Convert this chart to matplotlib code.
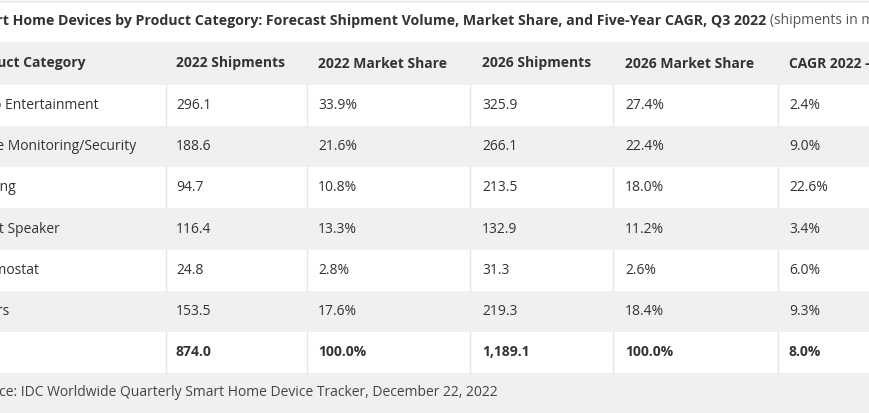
import matplotlib.pyplot as plt
from matplotlib.patches import Rectangle

# table data
categories = ["Video Entertainment", "Home Monitoring/Security", "Lighting",
              "Smart Speaker", "Thermostat", "Others", "Total"]
shipments_2022 = ["296.1", "188.6", "94.7", "116.4", "24.8", "153.5", "874.0"]
share_2022 = ["33.9%", "21.6%", "10.8%", "13.3%", "2.8%", "17.6%", "100.0%"]
shipments_2026 = ["325.9", "266.1", "213.5", "132.9", "31.3", "219.3", "1,189.1"]
share_2026 = ["27.4%", "22.4%", "18.0%", "11.2%", "2.6%", "18.4%", "100.0%"]
cagr = ["2.4%", "9.0%", "22.6%", "3.4%", "6.0%", "9.3%", "8.0%"]
headers = ["Product Category", "2022 Shipments", "2022 Market Share",
           "2026 Shipments", "2026 Market Share", "CAGR 2022 - 2026"]

title_bold = "Smart Home Devices by Product Category: Forecast Shipment Volume, Market Share, and Five-Year CAGR, Q3 2022"
title_note = "(shipments in millions)"
source = "Source: IDC Worldwide Quarterly Smart Home Device Tracker, December 22, 2022"

plt.rcParams['font.family'] = ['Open Sans', 'DejaVu Sans']

W, H = 870, 413
fig = plt.figure(figsize=(W / 100, H / 100), dpi=100)
ax = fig.add_axes([0, 0, 1, 1])
ax.set_xlim(0, W)
ax.set_ylim(H, 0)
ax.axis('off')

GRAY = '#f0f0f0'
LINE = '#e6e6e6'
TXT = '#333333'
FS = 10

header_top, header_bot = 42, 85
row_h = (373 - 85) / 7
col_lines = [166, 307, 470, 613, 778]
col_text = [176, 318, 482, 625, 789]
# the table starts left of the visible area, so the first column is cut off
cat_x = -35

# top border
ax.plot([0, W], [1, 1], color='#e4e4e4', lw=1)

# title: bold part, then the unit note right after it
t = ax.text(-34, 21, title_bold, ha='left', va='center', fontsize=10.15,
            fontweight='bold', color=TXT, clip_on=True)
fig.canvas.draw()
bb = t.get_window_extent()
ax.text(bb.x1 + 4, 21, title_note, ha='left', va='center', fontsize=FS,
        color='#555555', clip_on=True)

# header row
ax.add_patch(Rectangle((0, header_top), W, header_bot - header_top, color=GRAY, lw=0))
hy = (header_top + header_bot) / 2
ax.text(cat_x, hy, headers[0], ha='left', va='center',
        fontsize=FS, fontweight='bold', color=TXT, clip_on=True)
for x, h in zip(col_text, headers[1:]):
    ax.text(x, hy, h, ha='left', va='center', fontsize=FS,
            fontweight='bold', color=TXT, clip_on=True)

# body rows
cols = [shipments_2022, share_2022, shipments_2026, share_2026, cagr]
for i, cat in enumerate(categories):
    y0 = header_bot + i * row_h
    if i % 2 == 1:
        ax.add_patch(Rectangle((0, y0), W, row_h, color=GRAY, lw=0))
    else:
        for x in col_lines:
            ax.plot([x, x], [y0, y0 + row_h], color=LINE, lw=1)
    yc = y0 + row_h / 2
    bold = 'bold' if cat == "Total" else 'normal'
    ax.text(cat_x, yc, cat, ha='left', va='center', fontsize=FS,
            fontweight=bold, color=TXT, clip_on=True)
    for x, col in zip(col_text, cols):
        ax.text(x, yc, col[i], ha='left', va='center', fontsize=FS,
                fontweight=bold, color=TXT, clip_on=True)

# source row
src_top = header_bot + len(categories) * row_h
ax.add_patch(Rectangle((0, src_top), W, H - src_top, color=GRAY, lw=0))
ax.text(498, (src_top + H) / 2, source, ha='right', va='center', fontsize=FS,
        color='#444444', clip_on=True)

fig.savefig('out.png', dpi=100)
